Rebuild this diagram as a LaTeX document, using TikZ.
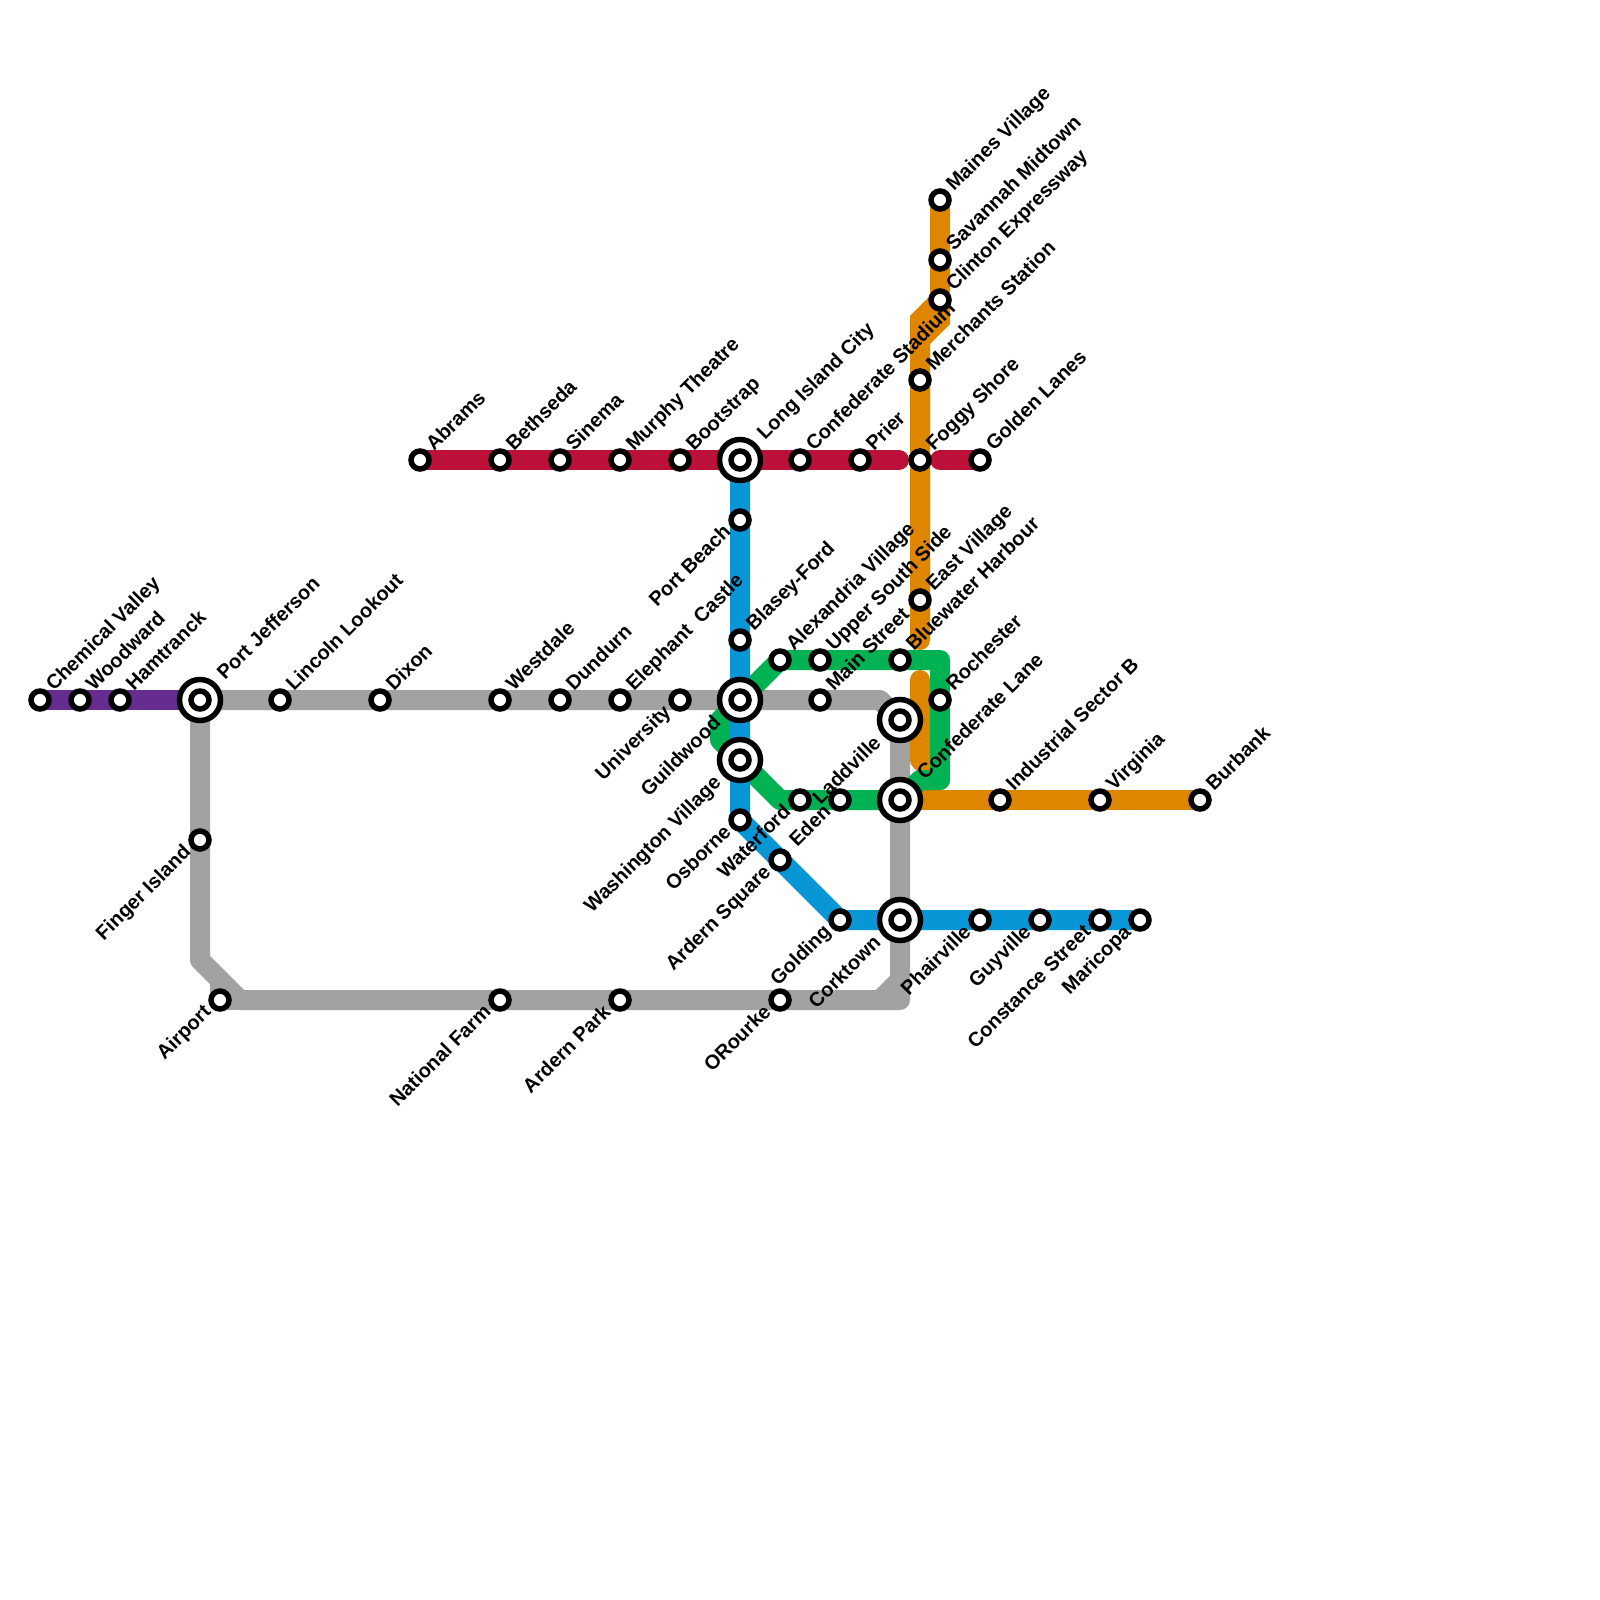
\documentclass[tikz,border=0pt]{standalone}
\usepackage{fontspec}
\setmainfont{Liberation Sans}[BoldFont={Liberation Sans Bold}]
\usetikzlibrary{backgrounds}
\definecolor{cpurple}{HTML}{662C90}
\definecolor{cgray}{HTML}{A2A2A2}
\definecolor{ccrimson}{HTML}{BD1038}
\definecolor{corange}{HTML}{DF8600}
\definecolor{cgreen}{HTML}{00B251}
\definecolor{cblue}{HTML}{0896D7}
\tikzset{
  stn/.style={circle,draw=black,fill=white,line width=5.5pt,minimum size=18pt,inner sep=0pt},
  hub/.style={circle,draw=black,fill=white,line width=5.5pt,minimum size=41pt,inner sep=0pt},
  hubdot/.style={circle,draw=black,fill=white,line width=5.5pt,minimum size=18pt,inner sep=0pt},
  txt/.style={font=\fontsize{20}{22}\selectfont\bfseries,rotate=45,inner sep=0pt},
  rlab/.style={txt,anchor=base west},
  llab/.style={txt,anchor=base east},
  metro/.style={line width=20pt,line join=round,line cap=round},
  sharp/.style={line width=20pt,line join=miter,line cap=butt}
}
% id, x, y, text
\newcommand\stR[4]{\node[stn] (#1) at (#2,#3) {}; \node[rlab] (#1-t) at ([shift={(14,-8)}]#1.center) {#4};}
\newcommand\stL[4]{\node[stn] (#1) at (#2,#3) {}; \node[llab] (#1-t) at ([shift={(-8,13)}]#1.center) {#4};}
\newcommand\hbR[4]{\node[hub] (#1) at (#2,#3) {}; \node[hubdot] (#1-d) at (#2,#3) {}; \node[rlab] (#1-t) at ([shift={(25,-19)}]#1.center) {#4};}
\newcommand\hbL[4]{\node[hub] (#1) at (#2,#3) {}; \node[hubdot] (#1-d) at (#2,#3) {}; \node[llab] (#1-t) at ([shift={(-18,24)}]#1.center) {#4};}
\begin{document}
\begin{tikzpicture}[x=1pt,y=-1pt]
\useasboundingbox (0,0) rectangle (1600,1600);
% stations
\stR{chem}{40}{700}{Chemical Valley}
\stR{wood}{80}{700}{Woodward}
\stR{hamt}{120}{700}{Hamtranck}
\hbR{port}{200}{700}{Port Jefferson}
\stR{linc}{280}{700}{Lincoln Lookout}
\stR{dixo}{380}{700}{Dixon}
\stR{west}{500}{700}{Westdale}
\stR{dund}{560}{700}{Dundurn}
\stR{elep}{620}{700}{Elephant\ \ Castle}
\stL{univ}{680}{700}{University}
\hbL{guil}{740}{700}{Guildwood}
\hbL{wash}{740}{760}{Washington Village}
\stR{blas}{740}{640}{Blasey-Ford}
\stL{pbea}{740}{520}{Port Beach}
\stL{osbo}{740}{820}{Osborne}
\stR{alex}{780}{660}{Alexandria Village}
\stR{uppe}{820}{660}{Upper South Side}
\stR{main}{820}{700}{Main Street}
\stR{blue}{900}{660}{Bluewater Harbour}
\hbL{ladd}{900}{720}{Laddville}
\hbR{conl}{900}{800}{Confederate Lane}
\stL{wate}{800}{800}{Waterford}
\stL{eden}{840}{800}{Eden}
\stL{arsq}{780}{860}{Ardern Square}
\stL{gold}{840}{920}{Golding}
\hbL{cork}{900}{920}{Corktown}
\stL{phai}{980}{920}{Phairville}
\stL{guyv}{1040}{920}{Guyville}
\stL{cons}{1100}{920}{Constance Street}
\stL{mari}{1140}{920}{Maricopa}
\stL{orou}{780}{1000}{ORourke}
\stL{arpk}{620}{1000}{Ardern Park}
\stL{natf}{500}{1000}{National Farm}
\stL{airp}{220}{1000}{Airport}
\stL{fing}{200}{840}{Finger Island}
\stR{abra}{420}{460}{Abrams}
\stR{beth}{500}{460}{Bethseda}
\stR{sine}{560}{460}{Sinema}
\stR{murp}{620}{460}{Murphy Theatre}
\stR{boot}{680}{460}{Bootstrap}
\hbR{long}{740}{460}{Long Island City}
\stR{cons2}{800}{460}{Confederate Stadium}
\stR{prie}{860}{460}{Prier}
\stR{fogg}{920}{460}{Foggy Shore}
\stR{gola}{980}{460}{Golden Lanes}
\stR{mnes}{940}{200}{Maines Village}
\stR{sava}{940}{260}{Savannah Midtown}
\stR{clin}{940}{300}{Clinton Expressway}
\stR{merc}{920}{380}{Merchants Station}
\stR{east}{920}{600}{East Village}
\stR{roch}{940}{700}{Rochester}
\stR{indu}{1000}{800}{Industrial Sector B}
\stR{virg}{1100}{800}{Virginia}
\stR{burb}{1200}{800}{Burbank}
% bends
\coordinate (g1) at (880,700);
\coordinate (g2) at (900,1000);
\coordinate (g3) at (240,1000);
\coordinate (g4) at (200,960);
\coordinate (g5) at (220,980);
\coordinate (g6) at (880,1000);
\coordinate (g7) at (900,980);
\coordinate (o1) at (940,300);
\coordinate (o2) at (920,320);
\coordinate (o3) at (940,320);
\coordinate (o4) at (920,340);
\coordinate (o5) at (920,640);
\coordinate (o6) at (920,680);
\coordinate (o7) at (920,760);
\coordinate (o8) at (940,780);
\coordinate (gr1) at (720,720);
\coordinate (gr2) at (720,740);
\coordinate (gr3) at (780,800);
\coordinate (gr4) at (780,660);
\coordinate (gr5) at (940,660);
\coordinate (gr6) at (940,780);
\coordinate (gr7) at (920,780);
\coordinate (c1) at (940,460);
\coordinate (c2) at (899,460);
\coordinate (b1) at (840,920);
\begin{scope}[on background layer]
\fill[white] (0,0) rectangle (1600,1600);
\draw[metro,cpurple] (chem.center) -- (port.center);
\draw[metro,cgray] (port.center) -- (g1) -- (ladd.center) -- (g2) -- (g3) -- (g4) -- cycle;
\draw[metro,cgray] (g5) -- (airp.center) -- (g3);
\draw[metro,cgray] (g7) -- (g6);
\draw[metro,ccrimson] (abra.center) -- (c2);
\draw[metro,ccrimson] (c1) -- (gola.center);
\draw[sharp,corange] (mnes.center) -- (o1) -- (o2) -- (o5);
\draw[sharp,corange] (o1) -- (o3) -- (o4) -- (o5);
\draw[metro,corange] (o4) -- (o5);
\draw[metro,corange] (o6) -- (o7) -- (o8);
\draw[metro,corange] (conl.center) -- (burb.center);
\draw[metro,cgreen] (gr4) -- (gr5) -- (gr6) -- (gr7) -- (conl.center) -- (gr3) -- (wash.center) -- (gr2) -- (gr1) -- (guil.center) -- cycle;
\draw[metro,cblue] (long.center) -- (osbo.center) -- (b1) -- (mari.center);
\end{scope}
\end{tikzpicture}
\end{document}
